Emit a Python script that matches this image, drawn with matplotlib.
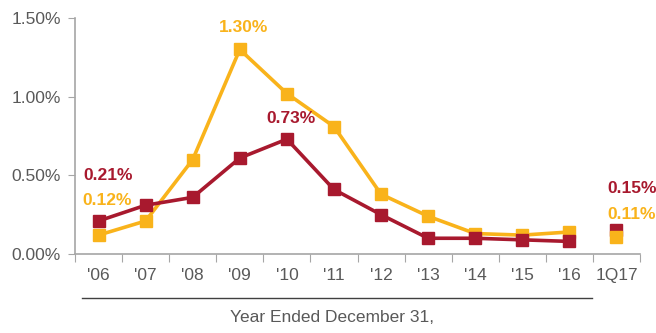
import matplotlib
matplotlib.use("Agg")
import matplotlib.pyplot as plt
from matplotlib.lines import Line2D
import numpy as np

categories = ["'06", "'07", "'08", "'09", "'10", "'11", "'12", "'13", "'14", "'15", "'16", "1Q17"]
red_vals = [0.21, 0.31, 0.36, 0.61, 0.73, 0.41, 0.25, 0.10, 0.10, 0.09, 0.08]
gold_vals = [0.12, 0.21, 0.60, 1.30, 1.02, 0.81, 0.38, 0.24, 0.13, 0.12, 0.14]
red_q = 0.15
gold_q = 0.11

RED = "#a8192e"
GOLD = "#f9b31b"
GREY = "#595959"
AXIS = "#a6a6a6"

plt.rcParams["font.family"] = ["Liberation Sans", "DejaVu Sans"]

fig = plt.figure(figsize=(6.56, 3.33), dpi=100)
ax = fig.add_axes([75 / 656, 79 / 333, 565 / 656, 236 / 333])

x = np.arange(len(categories)) + 0.5
xy = x[:len(red_vals)]
ax.plot(xy, gold_vals, color=GOLD, lw=2.6, marker="s", ms=8, zorder=3)
ax.plot(xy, red_vals, color=RED, lw=2.6, marker="s", ms=8, zorder=4)
# 1Q17 standalone points
ax.plot([x[-1]], [red_q], color=RED, marker="s", ms=8, zorder=3)
ax.plot([x[-1]], [gold_q], color=GOLD, marker="s", ms=8, zorder=4)

ax.set_xlim(0, len(categories))
ax.set_ylim(0, 1.5)
ax.set_yticks([0, 0.5, 1.0, 1.5])
ax.set_yticklabels([f"{v:.2f}%" for v in [0, 0.5, 1.0, 1.5]])
ax.set_xticks(np.arange(len(categories) + 1))
ax.set_xticklabels([])
ax.set_xticks(x, minor=True)
ax.set_xticklabels(categories, minor=True)
ax.tick_params(axis="x", which="major", length=6, color=AXIS, direction="out")
ax.tick_params(axis="x", which="minor", length=0, pad=10, labelsize=12.5, labelcolor=GREY)
ax.tick_params(axis="y", length=5, color=AXIS, labelsize=12.5, labelcolor=GREY, pad=5)
for s in ["top", "right"]:
    ax.spines[s].set_visible(False)
for s in ["left", "bottom"]:
    ax.spines[s].set_color(AXIS)
    ax.spines[s].set_linewidth(1.2)

lbl = dict(textcoords="offset points", ha="center", va="center",
           fontsize=12.5, fontweight="bold")
ax.annotate("1.30%", (xy[3], gold_vals[3]), xytext=(3, 16), color=GOLD, **lbl)
ax.annotate("0.73%", (xy[4], red_vals[4]), xytext=(3, 15), color=RED, **lbl)
ax.annotate("0.21%", (xy[0], red_vals[0]), xytext=(7, 33), color=RED, **lbl)
ax.annotate("0.12%", (xy[0], gold_vals[0]), xytext=(6, 25), color=GOLD, **lbl)
ax.annotate("0.15%", (x[-1], red_q), xytext=(11, 30), color=RED, **lbl)
ax.annotate("0.11%", (x[-1], gold_q), xytext=(11, 16), color=GOLD, **lbl)

fig.add_artist(Line2D([82 / 656, 592 / 656], [1 - 298 / 333] * 2,
                      color="#404040", lw=1.0, transform=fig.transFigure))
fig.text(332 / 656, 1 - 318 / 333, "Year Ended December 31,", ha="center",
         va="center", fontsize=12.5, color=GREY)

fig.savefig("out.png", dpi=100)
